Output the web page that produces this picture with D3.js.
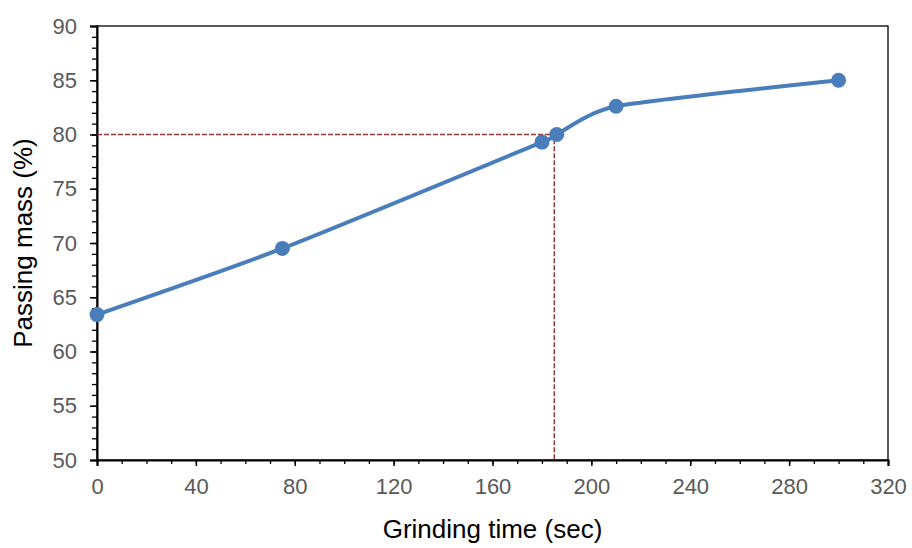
<!DOCTYPE html>
<html>
<head>
<meta charset="utf-8">
<script src="https://cdn.jsdelivr.net/npm/d3@7"></script>
<style>
  body { margin: 0; background: #fff; }
  text { font-family: "Liberation Sans", Arial, sans-serif; }
</style>
</head>
<body>
<svg id="chart" width="912" height="548"></svg>
<script>
// data
const grindTime = [0, 75, 180, 186, 210, 300];
const passing = [63.4, 69.5, 79.3, 80, 82.6, 85];
const xTicks = [0, 40, 80, 120, 160, 200, 240, 280, 320];
const yTicks = [50, 55, 60, 65, 70, 75, 80, 85, 90];
const target = { x: 185, y: 80 };

const svg = d3.select("#chart");
const margin = { left: 97, top: 26, right: 24, bottom: 88 };
const w = 912 - margin.left - margin.right;
const h = 548 - margin.top - margin.bottom;

const xscale = d3.scaleLinear().domain([0, 320]).range([0, w]);
const yscale = d3.scaleLinear().domain([50, 90]).range([h, 0]);

const g = svg.append("g").attr("transform", `translate(${margin.left},${margin.top})`);

// frame
g.append("rect")
  .attr("width", w).attr("height", h)
  .attr("fill", "none").attr("stroke", "#000").attr("stroke-width", 1.3);

// minor ticks
const xMinor = d3.range(0, 321, 10);
const yMinor = d3.range(50, 91, 1);
g.append("g").attr("transform", `translate(0,${h})`)
  .call(d3.axisBottom(xscale).tickValues(xMinor).tickSize(4).tickFormat(""))
  .call(a => a.select(".domain").remove())
  .selectAll("line").attr("stroke", "#000").attr("stroke-width", 1.3);
g.append("g")
  .call(d3.axisLeft(yscale).tickValues(yMinor).tickSize(5).tickFormat(""))
  .call(a => a.select(".domain").remove())
  .selectAll("line").attr("stroke", "#000").attr("stroke-width", 1.3);

// major axes
const xAxis = g.append("g").attr("transform", `translate(0,${h})`)
  .call(d3.axisBottom(xscale).tickValues(xTicks).tickSize(6).tickPadding(12));
const yAxis = g.append("g")
  .call(d3.axisLeft(yscale).tickValues(yTicks).tickSize(7).tickPadding(13));
[xAxis, yAxis].forEach(a => {
  a.select(".domain").attr("stroke", "#000").attr("stroke-width", 2);
  a.selectAll("line").attr("stroke", "#000").attr("stroke-width", 1.5);
  a.selectAll("text").attr("fill", "#595959").style("font-size", "22px");
});

// dashed guide lines at the 80% point
g.append("path")
  .attr("d", `M0,${yscale(target.y)}H${xscale(target.x)}V${h}`)
  .attr("fill", "none").attr("stroke", "#953735")
  .attr("stroke-width", 1.5).attr("stroke-dasharray", "5,2");

// smoothed line
const pts = grindTime.map((t, i) => [t, passing[i]]);
const line = d3.line()
  .x(d => xscale(d[0])).y(d => yscale(d[1]))
  .curve(d3.curveCardinal.tension(0.4));
g.append("path").datum(pts)
  .attr("d", line)
  .attr("fill", "none").attr("stroke", "#4A7EBB").attr("stroke-width", 4);

g.selectAll("circle").data(pts).join("circle")
  .attr("cx", d => xscale(d[0])).attr("cy", d => yscale(d[1]))
  .attr("r", 7.5).attr("fill", "#4A7EBB");

// axis titles
svg.append("text")
  .attr("x", margin.left + w / 2).attr("y", 538)
  .attr("text-anchor", "middle").style("font-size", "26px").attr("fill", "#000")
  .text("Grinding time (sec)");
svg.append("text")
  .attr("transform", `translate(32,${margin.top + h / 2}) rotate(-90)`)
  .attr("text-anchor", "middle").style("font-size", "26px").attr("fill", "#000")
  .text("Passing mass (%)");
</script>
</body>
</html>
